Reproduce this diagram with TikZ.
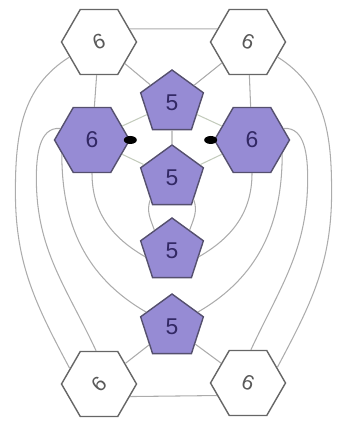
\documentclass[tikz,border=0pt]{standalone}
\usepackage{fontspec}
\setmainfont{Liberation Sans}
\usepackage{graphicx}
\usetikzlibrary{shapes.geometric}
\definecolor{cellpurple}{RGB}{150,139,212}
\definecolor{celledge}{RGB}{85,80,110}
\definecolor{numink}{RGB}{50,40,100}
\definecolor{linkgray}{RGB}{172,172,172}
\definecolor{linkpale}{RGB}{195,203,188}

\begin{document}
\begin{tikzpicture}[
  x=0.02cm, y=0.02cm,
  outerhex/.style={
    regular polygon,
    regular polygon sides=6,
    draw=black!60,
    line width=0.8pt,
    fill=white,
    inner sep=0pt,
    minimum size=1.5cm,
    font=\fontsize{12}{14}\selectfont,
    text=black!65
  },
  innerhex/.style={
    regular polygon,
    regular polygon sides=6,
    draw=celledge,
    line width=0.8pt,
    fill=cellpurple,
    inner sep=0pt,
    minimum size=1.5cm,
    font=\fontsize{13}{15}\selectfont,
    text=numink
  },
  pent/.style={
    regular polygon,
    regular polygon sides=5,
    draw=celledge,
    line width=0.8pt,
    fill=cellpurple,
    inner sep=0pt,
    minimum size=1.32cm,
    font=\fontsize{13}{15}\selectfont,
    text=numink
  },
  link/.style={draw=linkgray, line width=0.6pt},
  palelink/.style={draw=linkpale, line width=0.6pt},
  lonepair/.style={ellipse, fill=black, inner sep=0pt,
    minimum width=0.26cm, minimum height=0.16cm}
]
\useasboundingbox (0,0) rectangle (342,428);

\node[outerhex] (topleft) at (99,386) {\rotatebox{20}{6}};
\node[outerhex] (topright) at (248,386) {\rotatebox{-20}{6}};
\node[pent] (penta) at (172,325) {5};
\node[innerhex] (left) at (92,288) {6};
\node[innerhex] (right) at (252,288) {6};
\node[pent] (pentb) at (172,250) {5};
\node[pent] (pentc) at (172,177) {5};
\node[pent] (pentd) at (172,101) {5};
\node[outerhex] (botleft) at (99,44) {\rotatebox{45}{6}};
\node[outerhex] (botright) at (248,45) {\rotatebox{-20}{6}};

\draw[link] (topleft.23) -- (topright.157);
\draw[link] (topleft) -- (penta);
\draw[link] (topright) -- (penta);
\draw[link] (topleft) -- (left);
\draw[link] (topright) -- (right);
\draw[palelink] (penta) -- (left);
\draw[palelink] (penta) -- (right);
\draw[link] (penta) -- (pentb);
\draw[palelink] (left) -- (pentb);
\draw[palelink] (right) -- (pentb);
\draw[link] (pentb.225) to[out=250, in=110] (pentc.130);
\draw[link] (pentb.315) to[out=290, in=70] (pentc.50);
\draw[link] (left.south) to[out=270, in=150] (pentc.192);
\draw[link] (right.south) to[out=270, in=30] (pentc.348);
\draw[link] (left.205) to[out=270, in=150] (pentd.150);
\draw[link] (right.335) to[out=270, in=30] (pentd.30);
\draw[link] (left.160) to[out=175, in=90] ++(-24,-50) to[out=270, in=115] (botleft.95);
\draw[link] (right.20) to[out=5, in=90] ++(24,-50) to[out=270, in=65] (botright.85);
\draw[link] (topleft.207) to[out=212, in=90] ++(-54,-135) to[out=270, in=118] (botleft.152);
\draw[link] (topright.333) to[out=328, in=90] ++(54,-135) to[out=270, in=62] (botright.28);
\draw[link] (pentd) -- (botleft);
\draw[link] (pentd) -- (botright);
\draw[link] (botleft.-22) -- (botright.202);

\node[lonepair] (dotleft) at (left.east) {};
\node[lonepair] (dotright) at ([xshift=-0.06cm]right.west) {};

\end{tikzpicture}
\end{document}
